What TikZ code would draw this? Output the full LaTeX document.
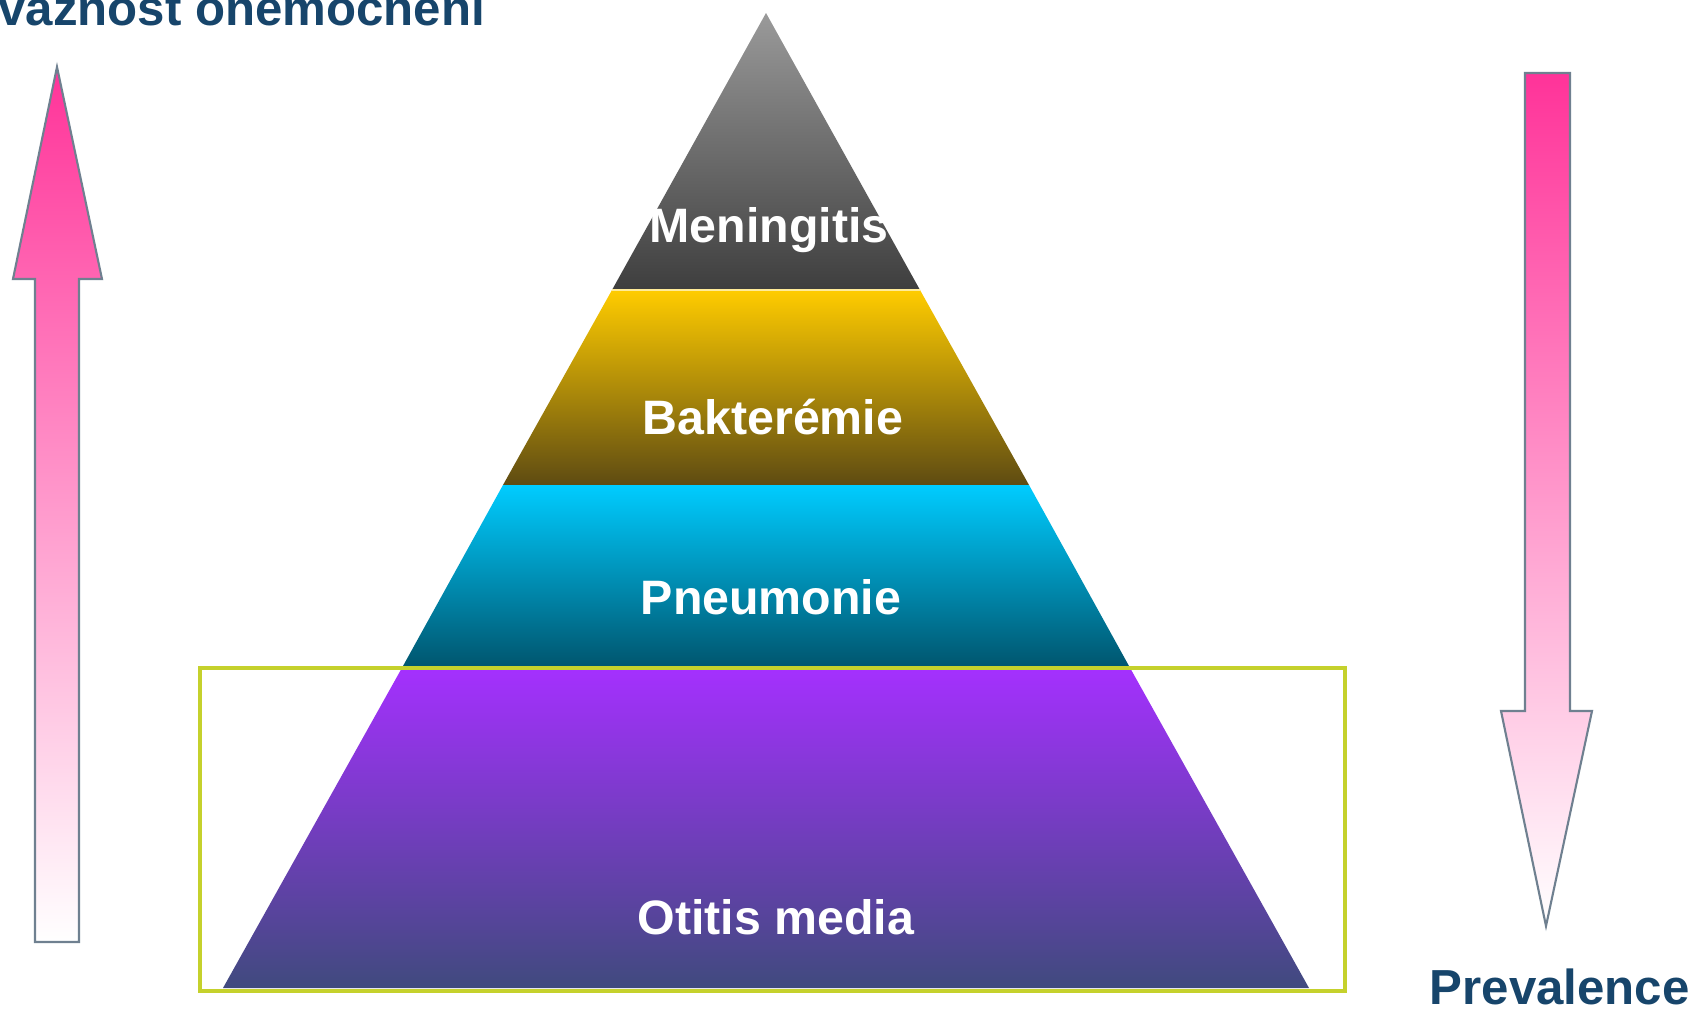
\documentclass[tikz,border=0pt]{standalone}
\usepackage{fontspec}
\setmainfont{Liberation Sans}
\usepackage{tikz}
\usepackage{xcolor}
\definecolor{titleblue}{HTML}{17456B}
\definecolor{rimgray}{HTML}{6F8090}
\definecolor{arrowpink}{HTML}{FF3399}
\definecolor{boxgreen}{HTML}{C5D12C}
\definecolor{greytop}{HTML}{9A9A9A}
\definecolor{greybot}{HTML}{3E3E3E}
\definecolor{goldtop}{HTML}{FFCC00}
\definecolor{goldbot}{HTML}{5E4B12}
\definecolor{cyantop}{HTML}{00CCFF}
\definecolor{cyanbot}{HTML}{00566F}
\definecolor{violtop}{HTML}{A530FF}
\definecolor{violbot}{HTML}{404A7E}

\begin{document}
\begin{tikzpicture}[x=0.02cm,y=-0.02cm,
  lbl/.style={text=white,font=\bfseries\fontsize{27.5}{32}\selectfont,inner sep=0pt},
  heading/.style={text=titleblue,font=\bfseries\fontsize{28}{32}\selectfont,inner sep=0pt},
  blockarrow/.style={draw=rimgray,line width=1.2pt,line join=miter}]
\useasboundingbox (0,0) rectangle (1698,1011);
\fill[white] (0,0) rectangle (1698,1011);

% pyramid bands
\shade[top color=greytop,bottom color=greybot] (766,13) -- (920,290) -- (612,290) -- cycle;
\shade[top color=goldtop,bottom color=goldbot] (612,290) -- (920,290) -- (1029,485) -- (503,485) -- cycle;
\shade[top color=cyantop,bottom color=cyanbot] (503,485) -- (1029,485) -- (1129,666) -- (403,666) -- cycle;
\shade[top color=violtop,bottom color=violbot] (403,666) -- (1129,666) -- (1309,988) -- (223,988) -- cycle;
\draw[goldtop!40,line width=0.8pt] (612,290) -- (920,290);

\node[lbl] (mening) at (769,230) {Meningitis};
\node[lbl] (bakter) at (773,417) {Bakterémie};
\node[lbl] (pneum) at (771,597) {Pneumonie};
\node[lbl] (otitis) at (776,917) {Otitis media};

% frame round the base
\draw[boxgreen,line width=2.8pt] (200,668) rectangle (1345,991);

% severity arrow
\shade[blockarrow,top color=arrowpink,middle color=arrowpink!45!white,bottom color=white]
  (57,67) -- (102,279) -- (79,279) -- (79,942) -- (35,942) -- (35,279) -- (13,279) -- cycle;

% prevalence arrow
\shade[blockarrow,top color=arrowpink,middle color=arrowpink!30!white,bottom color=white]
  (1525,73) -- (1570,73) -- (1570,711) -- (1592,711) -- (1546,926) -- (1501,711) -- (1525,711) -- cycle;

\begin{scope}
\clip (0,0) rectangle (1698,1011);
\node[heading,anchor=base west] (zavaz) at (-2,25) {\llap{Zá}važnost onemocnění};
\end{scope}
\node[heading,anchor=base east] (prev) at (1690,1004) {Prevalence};
\end{tikzpicture}
\end{document}
